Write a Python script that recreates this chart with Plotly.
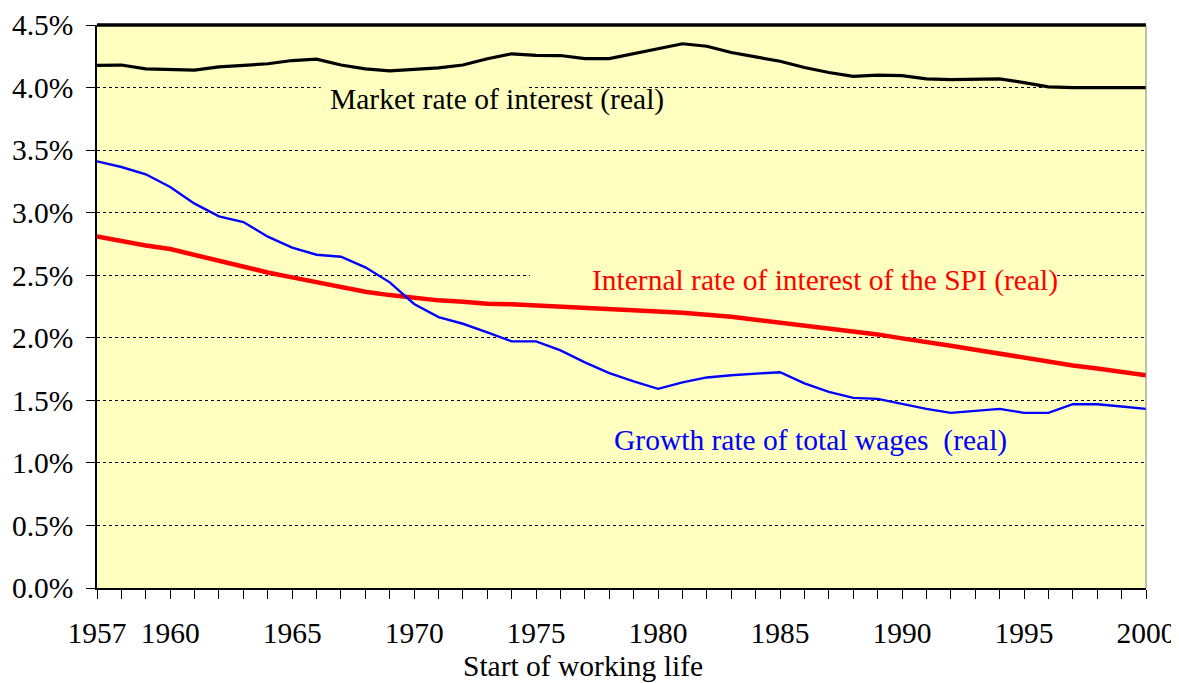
import plotly.graph_objects as go

years = list(range(1957, 2001))

market_rate = [4.178, 4.18, 4.15, 4.144, 4.14, 4.165, 4.18, 4.19, 4.216, 4.227,
               4.18, 4.15, 4.133, 4.144, 4.157, 4.18, 4.23, 4.27, 4.258, 4.256,
               4.232, 4.232, 4.27, 4.31, 4.35, 4.33, 4.28, 4.245, 4.21, 4.16,
               4.12, 4.09, 4.10, 4.095, 4.07, 4.064, 4.064, 4.07, 4.04, 4.006,
               4.0, 4.0, 4.0, 4.0]

spi_rate = [2.81, 2.773, 2.738, 2.709, 2.66, 2.613, 2.568, 2.522, 2.483, 2.443,
            2.405, 2.368, 2.341, 2.317, 2.299, 2.288, 2.272, 2.267, 2.259, 2.248,
            2.237, 2.229, 2.219, 2.211, 2.2, 2.187, 2.168, 2.144, 2.121, 2.099,
            2.077, 2.053, 2.027, 1.995, 1.968, 1.936, 1.904, 1.872, 1.84, 1.808,
            1.779, 1.755, 1.731, 1.701]

wage_growth = [3.41, 3.365, 3.307, 3.205, 3.072, 2.97, 2.925, 2.808, 2.72, 2.664,
               2.648, 2.563, 2.443, 2.27, 2.165, 2.112, 2.043, 1.971, 1.971, 1.899,
               1.803, 1.717, 1.651, 1.592, 1.643, 1.683, 1.701, 1.712, 1.725, 1.635,
               1.568, 1.52, 1.512, 1.472, 1.432, 1.40, 1.416, 1.432, 1.40, 1.40,
               1.469, 1.469, 1.451, 1.432]

labelled_years = [1957, 1960, 1965, 1970, 1975, 1980, 1985, 1990, 1995, 2000]
y_ticks = [0.0, 0.5, 1.0, 1.5, 2.0, 2.5, 3.0, 3.5, 4.0, 4.5]

series_names = ["Market rate of interest (real)",
                "Internal rate of interest of the SPI (real)",
                "Growth rate of total wages  (real)"]

FONT = "Liberation Serif, Times New Roman, serif"
FS = 29.5
BG = "#FFFFC0"

fig = go.Figure()
fig.add_trace(go.Scatter(x=years, y=market_rate, mode="lines",
                         line=dict(color="black", width=3.2), name=series_names[0]))
fig.add_trace(go.Scatter(x=years, y=spi_rate, mode="lines",
                         line=dict(color="#FF0000", width=4.5), name=series_names[1]))
fig.add_trace(go.Scatter(x=years, y=wage_growth, mode="lines",
                         line=dict(color="#0000FF", width=2.4), name=series_names[2]))

annotations = [
    dict(x=1966.45, y=3.905, text=series_names[0], font=dict(color="black")),
    dict(x=1977.2, y=2.455, text=series_names[1], font=dict(color="#FF0000")),
    dict(x=1978.09, y=1.175, text=series_names[2], font=dict(color="#0000FF")),
]
for a in annotations:
    a.update(xref="x", yref="y", xanchor="left", yanchor="middle", showarrow=False)
    a["font"].update(family=FONT, size=FS)
    fig.add_annotation(**a)

fig.add_annotation(text="Start of working life", xref="paper", yref="paper",
                   x=0.463, y=-0.138, xanchor="center", yanchor="middle",
                   showarrow=False, font=dict(family=FONT, size=FS, color="black"))

# background patches that interrupt gridlines behind labels
fig.add_shape(type="rect", xref="x", yref="y", x0=1966.17, x1=1974.58, y0=3.97, y1=4.03,
              fillcolor=BG, line=dict(width=0), layer="between")
fig.add_shape(type="rect", xref="x", yref="y", x0=1974.75, x1=1996.2, y0=2.47, y1=2.53,
              fillcolor=BG, line=dict(width=0), layer="between")
# top and right frame
fig.add_shape(type="line", xref="paper", yref="paper", x0=0, x1=1, y0=1, y1=1,
              line=dict(color="black", width=3.5), layer="above")
fig.add_shape(type="line", xref="paper", yref="paper", x0=1, x1=1, y0=0, y1=1,
              line=dict(color="#808080", width=1), layer="above")

# page body has an 8px default margin, so the figure is sized to fit the window
fig.update_layout(
    width=1171, height=675,
    margin=dict(l=89, r=33, t=17, b=95),
    paper_bgcolor="white", plot_bgcolor=BG,
    showlegend=False,
    font=dict(family=FONT, size=FS, color="black"),
)
fig.update_xaxes(
    automargin=False,
    range=[1957, 2000], tickmode="array", tickvals=years,
    ticktext=[str(y) if y in labelled_years else "" for y in years],
    ticks="outside", ticklen=9, tickwidth=1, tickcolor="black", ticklabelstandoff=9,
    showgrid=False, zeroline=False, showline=True, linecolor="black", linewidth=1.5,
    tickfont=dict(family=FONT, size=FS, color="black"),
)
fig.update_yaxes(
    automargin=False,
    range=[0, 4.5], tickmode="array", tickvals=y_ticks,
    ticktext=[f"{v:.1f}%" for v in y_ticks],
    ticks="outside", ticklen=9, tickwidth=1, tickcolor="black", ticklabelstandoff=7,
    showgrid=True, gridcolor="black", gridwidth=1, griddash="dot",
    zeroline=False, showline=True, linecolor="black", linewidth=1.5,
    tickfont=dict(family=FONT, size=FS, color="black"),
)

fig.write_html("out.html")
